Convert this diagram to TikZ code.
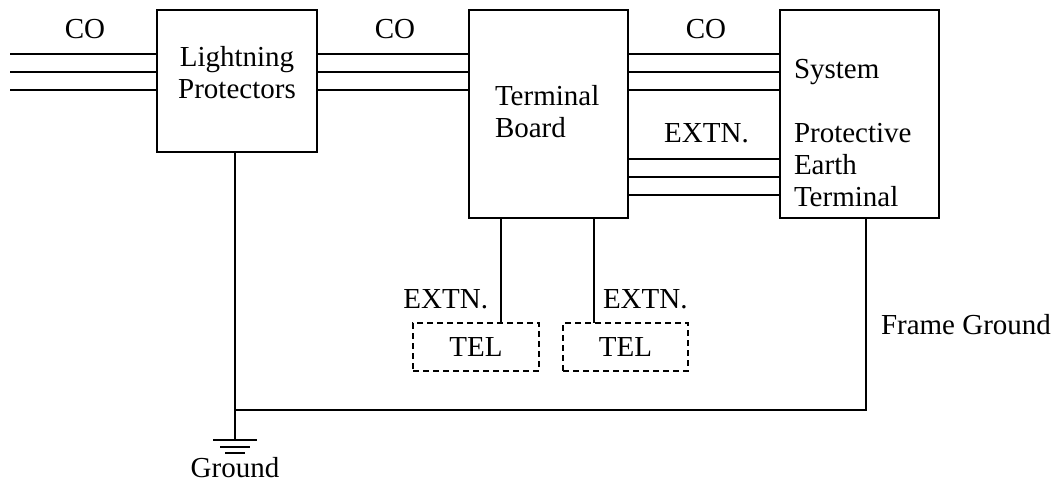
\documentclass[tikz,border=0pt]{standalone}
\usepackage{fontspec}
\setmainfont{Liberation Serif}
\newfontfamily\tnr{Liberation Serif}
\begin{document}
\begin{tikzpicture}[x=1pt,y=-1pt,line width=1.8pt,
  txt/.style={inner sep=0pt,outer sep=0pt,font=\tnr\fontsize{29}{32}\selectfont},
  blk/.style={draw,rectangle,inner sep=0pt,outer sep=0pt},
  telbox/.style={blk,dashed,dash pattern=on 6pt off 4pt,line width=1.5pt,font=\tnr\fontsize{29}{32}\selectfont},
  wire/.style={draw,line width=1.8pt}]
\useasboundingbox (0,0) rectangle (1058,484);
% blocks
\node[blk,minimum width=160pt,minimum height=142pt] (lp) at (237,81) {};
\node[blk,minimum width=159pt,minimum height=208pt] (tb) at (548.5,114) {};
\node[blk,minimum width=159pt,minimum height=208pt] (sys) at (859.5,114) {};
\node[telbox,minimum width=126pt,minimum height=48pt] (tel1) at (476,347) {TEL};
\node[telbox,minimum width=125pt,minimum height=48pt] (tel2) at (625.5,347) {TEL};
% block texts
\node[txt,anchor=north,align=center] (lpt) at (237,46.5) {Lightning\\Protectors};
\node[txt,anchor=north west,align=left] (tbt) at (495,85.5) {Terminal\\Board};
\node[txt,anchor=north west,align=left] (syst) at (794,59) {System\\[32pt]Protective\\Earth\\Terminal};
% CO bundles
\coordinate (lend) at (10,10);
\foreach \d in {44,62,80}{
  \draw[wire] ([yshift=-\d pt]lend) -- ([yshift=-\d pt]lp.north west);
  \draw[wire] ([yshift=-\d pt]lp.north east) -- ([yshift=-\d pt]tb.north west);
  \draw[wire] ([yshift=-\d pt]tb.north east) -- ([yshift=-\d pt]sys.north west);
}
% EXTN bundle
\foreach \d in {149,167,185}{
  \draw[wire] ([yshift=-\d pt]tb.north east) -- ([yshift=-\d pt]sys.north west);
}
% labels
\node[txt,anchor=base] (co1) at (85,39) {CO};
\node[txt,anchor=base] (co2) at (395,39) {CO};
\node[txt,anchor=base] (co3) at (706,39) {CO};
\node[txt,anchor=base] (ex0) at (706.5,143) {EXTN.};
\node[txt,anchor=base east] (ex1) at (488,308) {EXTN.};
\node[txt,anchor=base west] (ex2) at (603,308) {EXTN.};
\node[txt,anchor=base west] (fg) at (881,334) {Frame Ground};
\node[txt,anchor=base] (gl) at (235,477) {Ground};
% extension drops
\coordinate (d1) at ([xshift=32pt]tb.south west);
\coordinate (d2) at ([xshift=125pt]tb.south west);
\draw[wire] (d1) -- (d1 |- tel1.north);
\draw[wire] (d2) -- (d2 |- tel2.north);
% grounding
\coordinate (gnd) at (235,440);
\coordinate (fgc) at (866,410);
\coordinate (lpb) at ([xshift=-2pt]lp.south);
\coordinate (sysb) at ([xshift=6.5pt]sys.south);
\draw[wire] (lpb) -- (gnd);
\draw[wire] (sysb) -- (fgc) -- (fgc -| gnd);
\draw[wire] ([xshift=-22pt]gnd) -- ([xshift=22pt]gnd);
\draw[wire] ([shift={(-15,7)}]gnd) -- ([shift={(15,7)}]gnd);
\draw[wire] ([shift={(-10,13)}]gnd) -- ([shift={(10,13)}]gnd);
\end{tikzpicture}
\end{document}
